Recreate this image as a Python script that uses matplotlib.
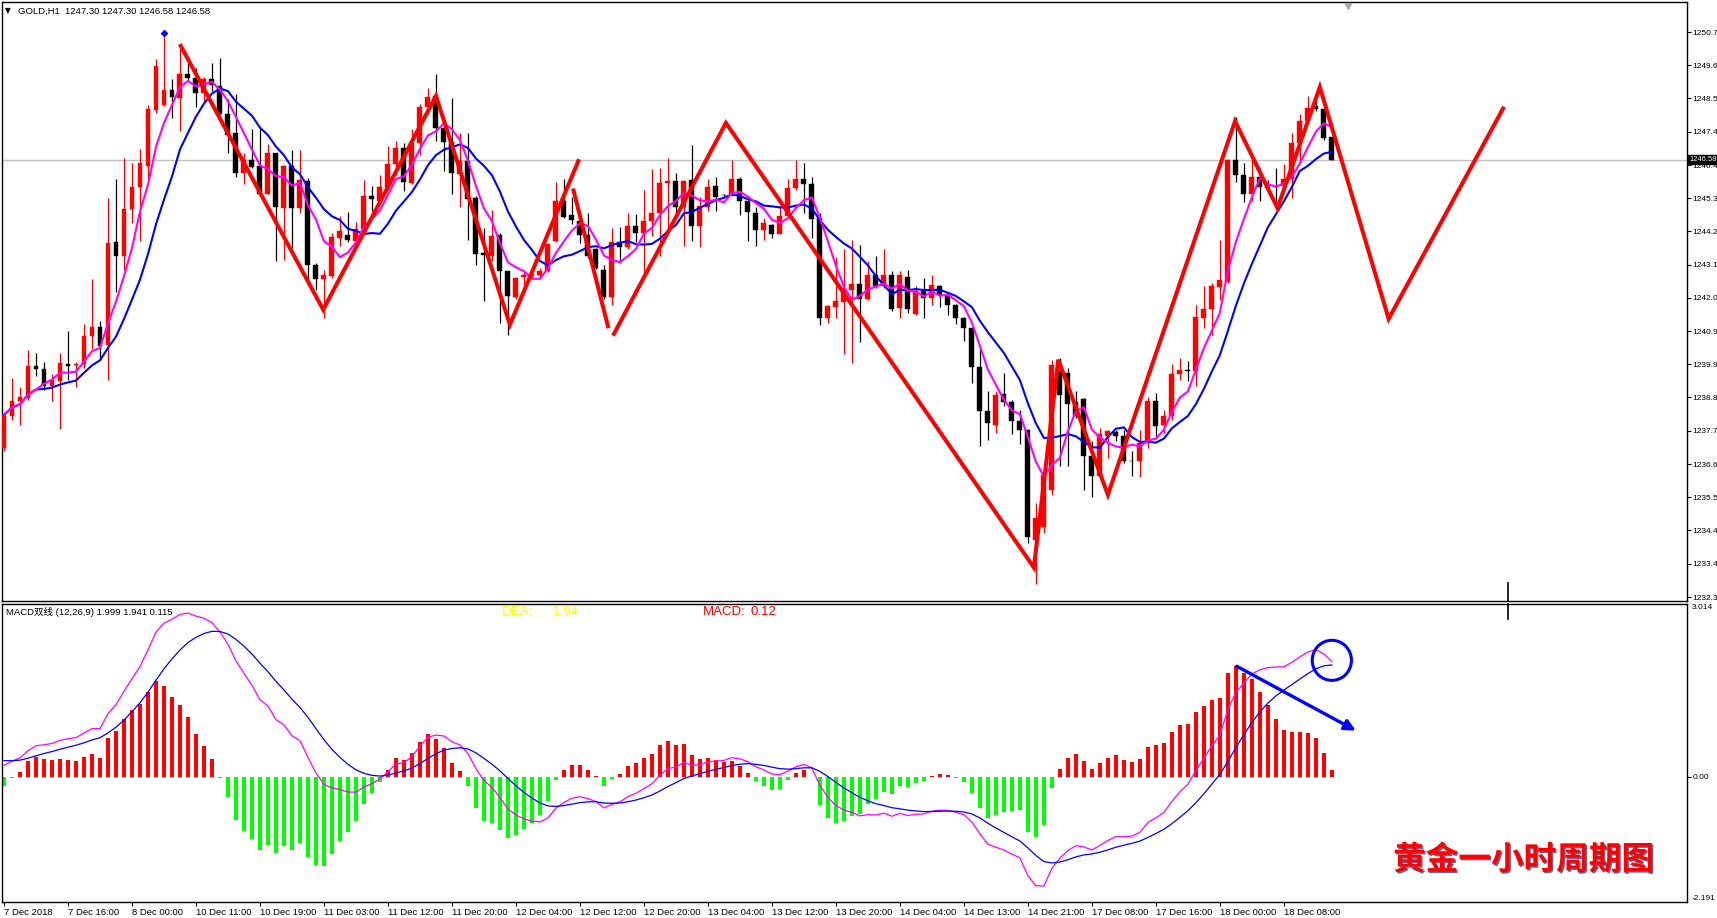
import matplotlib
matplotlib.use('Agg')
import matplotlib.pyplot as plt
import matplotlib.patheffects as pe
from matplotlib.patches import Ellipse, FancyArrowPatch
import numpy as np
import pandas as pd

plt.rcParams['font.family'] = ['Liberation Sans', 'Noto Sans CJK SC', 'DejaVu Sans']

# ---- data ----
time_labels = ["7 Dec 2018", "7 Dec 16:00", "8 Dec 00:00", "10 Dec 11:00", "10 Dec 19:00",
               "11 Dec 03:00", "11 Dec 12:00", "11 Dec 20:00", "12 Dec 04:00", "12 Dec 12:00",
               "12 Dec 20:00", "13 Dec 04:00", "13 Dec 12:00", "13 Dec 20:00", "14 Dec 04:00",
               "14 Dec 13:00", "14 Dec 21:00", "17 Dec 08:00", "17 Dec 16:00", "18 Dec 00:00",
               "18 Dec 08:00"]
label_step = 8

opens = [1237.18, 1238.21, 1238.72, 1238.81, 1239.84, 1239.77, 1239.21, 1239.37, 1239.93, 1239.88,
         1239.93, 1240.82, 1241.11, 1240.55, 1243.88, 1243.45, 1244.98, 1245.68, 1246.38, 1248.19,
         1248.34, 1248.86, 1248.59, 1249.38, 1249.24, 1248.75, 1249.19, 1248.97, 1248.05, 1247.43,
         1246.15, 1246.58, 1246.36, 1245.47, 1246.78, 1245.00, 1246.36, 1245.00, 1245.87, 1243.16,
         1242.70, 1242.78, 1244.03, 1244.11, 1243.92, 1244.33, 1245.39, 1245.24, 1245.66, 1246.42,
         1246.94, 1245.82, 1247.13, 1248.29, 1248.65, 1247.61, 1247.16, 1246.11, 1246.53, 1245.31,
         1243.54, 1243.45, 1244.11, 1242.94, 1242.09, 1242.75, 1242.78, 1242.83, 1242.94, 1243.92,
         1245.24, 1244.77, 1244.59, 1244.12, 1243.68, 1242.99, 1242.09, 1243.89, 1243.73, 1244.41,
         1244.19, 1244.57, 1244.84, 1245.82, 1245.87, 1245.03, 1245.90, 1244.41, 1245.03, 1245.71,
         1245.44, 1245.42, 1245.96, 1245.22, 1244.84, 1244.30, 1244.46, 1244.16, 1244.73, 1245.64,
         1245.93, 1245.77, 1244.66, 1241.42, 1241.78, 1241.94, 1242.34, 1242.51, 1242.05, 1242.83,
         1242.45, 1242.83, 1241.75, 1242.75, 1241.55, 1242.29, 1242.07, 1242.45, 1242.16, 1241.85,
         1241.42, 1241.09, 1239.81, 1238.40, 1237.94, 1238.94, 1238.68, 1238.05, 1237.78, 1234.20,
         1234.60, 1235.80, 1239.68, 1239.63, 1238.68, 1238.79, 1236.91, 1236.26, 1237.56, 1237.70,
         1237.59, 1236.77, 1236.75, 1237.34, 1238.72, 1237.94, 1238.21, 1239.59, 1239.74, 1239.68,
         1241.42, 1241.72, 1242.42, 1242.59, 1246.58, 1246.07, 1245.46, 1246.00, 1245.70, 1245.73,
         1245.71, 1245.93, 1247.13, 1247.85, 1248.32, 1248.21, 1247.30]
highs = [1238.30, 1239.46, 1239.16, 1240.38, 1240.27, 1239.98, 1239.59, 1240.27, 1240.98, 1239.98,
         1241.22, 1242.70, 1241.31, 1245.33, 1245.93, 1246.63, 1246.47, 1246.91, 1248.37, 1249.84,
         1250.66, 1249.19, 1250.17, 1249.73, 1249.57, 1249.27, 1249.71, 1249.87, 1248.54, 1248.70,
         1246.80, 1247.56, 1247.61, 1247.07, 1246.80, 1246.40, 1246.88, 1246.88, 1245.98, 1243.20,
         1242.99, 1244.19, 1244.73, 1244.86, 1244.54, 1245.90, 1245.71, 1246.07, 1247.02, 1247.18,
         1247.13, 1247.56, 1248.40, 1248.90, 1249.35, 1247.67, 1248.57, 1247.45, 1247.45, 1245.39,
         1244.35, 1244.95, 1244.19, 1242.96, 1242.75, 1242.99, 1242.99, 1243.05, 1243.86, 1245.85,
         1245.93, 1245.35, 1244.84, 1244.84, 1243.70, 1243.14, 1244.35, 1244.37, 1244.84, 1244.81,
         1245.60, 1246.26, 1246.31, 1246.64, 1246.15, 1245.90, 1247.05, 1245.35, 1245.93, 1246.01,
         1245.47, 1246.55, 1246.01, 1245.25, 1245.03, 1244.66, 1244.48, 1245.06, 1245.96, 1246.55,
         1246.45, 1246.01, 1244.84, 1241.85, 1243.40, 1243.65, 1243.97, 1243.79, 1243.27, 1243.43,
         1243.65, 1242.94, 1242.94, 1242.99, 1242.45, 1242.72, 1242.83, 1242.48, 1242.18, 1241.88,
         1241.45, 1241.12, 1240.46, 1239.05, 1239.05, 1239.63, 1238.76, 1238.43, 1237.80, 1235.40,
         1236.40, 1240.06, 1240.11, 1239.79, 1239.03, 1238.81, 1237.40, 1237.83, 1237.77, 1237.78,
         1237.78, 1237.07, 1237.78, 1238.83, 1238.97, 1238.43, 1239.92, 1240.12, 1240.01, 1241.85,
         1242.45, 1242.56, 1243.97, 1246.60, 1247.96, 1246.47, 1246.64, 1246.31, 1245.90, 1246.29,
         1246.42, 1247.45, 1248.05, 1248.65, 1248.79, 1248.27, 1247.30]
lows = [1237.10, 1238.10, 1237.94, 1238.75, 1239.52, 1239.08, 1238.70, 1237.81, 1239.41, 1239.16,
        1239.79, 1240.42, 1240.06, 1239.41, 1242.27, 1242.99, 1244.51, 1243.94, 1245.95, 1248.10,
        1248.32, 1247.92, 1247.50, 1249.13, 1248.29, 1248.43, 1248.81, 1248.05, 1246.80, 1246.01,
        1245.79, 1246.31, 1245.39, 1245.45, 1243.27, 1243.32, 1243.70, 1244.84, 1242.67, 1242.34,
        1241.42, 1242.73, 1243.75, 1243.90, 1243.76, 1244.25, 1244.90, 1245.22, 1245.60, 1246.09,
        1245.55, 1245.79, 1246.74, 1248.05, 1247.18, 1246.20, 1245.46, 1245.04, 1243.97, 1243.14,
        1241.96, 1243.27, 1241.26, 1240.85, 1242.05, 1242.49, 1242.72, 1242.72, 1242.92, 1243.90,
        1244.68, 1244.48, 1243.86, 1243.38, 1243.00, 1242.05, 1241.83, 1243.21, 1243.68, 1243.90,
        1242.83, 1244.08, 1243.43, 1244.35, 1244.66, 1243.76, 1243.92, 1243.72, 1244.90, 1244.90,
        1245.38, 1245.39, 1244.77, 1243.92, 1243.76, 1243.97, 1244.03, 1244.14, 1244.68, 1245.60,
        1244.84, 1244.03, 1241.18, 1241.26, 1241.42, 1240.25, 1239.95, 1240.64, 1242.00, 1242.40,
        1242.40, 1241.64, 1241.42, 1241.58, 1241.53, 1241.42, 1241.83, 1241.77, 1241.50, 1241.22,
        1240.68, 1239.30, 1237.24, 1237.46, 1237.67, 1238.54, 1237.64, 1237.31, 1234.10, 1232.74,
        1234.40, 1235.66, 1236.59, 1236.59, 1238.16, 1235.82, 1235.60, 1236.20, 1236.86, 1237.40,
        1236.70, 1236.26, 1236.23, 1237.18, 1237.51, 1237.67, 1238.10, 1239.41, 1239.35, 1239.19,
        1241.09, 1240.88, 1242.02, 1242.56, 1245.85, 1245.20, 1245.22, 1245.22, 1245.50, 1245.01,
        1245.66, 1245.33, 1246.53, 1247.83, 1248.16, 1247.23, 1246.58]
closes = [1238.27, 1238.73, 1238.83, 1239.84, 1239.77, 1239.21, 1239.41, 1239.95, 1239.86, 1239.93,
          1240.82, 1241.11, 1240.51, 1243.85, 1243.45, 1244.98, 1245.68, 1246.46, 1248.21, 1249.62,
          1248.86, 1248.62, 1249.35, 1249.24, 1248.75, 1249.19, 1249.00, 1248.07, 1247.39, 1246.15,
          1246.58, 1246.34, 1245.47, 1246.78, 1245.04, 1246.36, 1245.00, 1245.91, 1243.16, 1242.70,
          1242.83, 1244.05, 1244.24, 1243.95, 1244.33, 1245.39, 1245.28, 1245.68, 1246.44, 1246.94,
          1245.85, 1247.13, 1248.29, 1248.61, 1247.61, 1247.16, 1246.15, 1246.53, 1245.28, 1243.51,
          1243.46, 1244.08, 1242.96, 1242.13, 1242.72, 1242.81, 1242.85, 1242.96, 1243.83, 1245.24,
          1244.70, 1244.60, 1244.12, 1243.43, 1243.03, 1242.09, 1243.90, 1243.73, 1244.41, 1244.19,
          1244.59, 1244.84, 1245.82, 1245.87, 1245.03, 1245.87, 1244.41, 1245.06, 1245.68, 1245.35,
          1245.41, 1245.96, 1245.24, 1244.88, 1244.30, 1244.50, 1244.16, 1244.73, 1245.64, 1245.96,
          1245.77, 1244.63, 1241.42, 1241.80, 1241.96, 1242.38, 1242.51, 1242.05, 1242.83, 1242.45,
          1242.83, 1241.72, 1242.81, 1241.72, 1242.29, 1242.07, 1242.48, 1242.16, 1241.85, 1241.42,
          1241.09, 1239.81, 1238.38, 1238.00, 1238.92, 1238.68, 1238.05, 1237.78, 1234.27, 1234.90,
          1236.31, 1239.90, 1238.92, 1238.62, 1238.21, 1236.91, 1236.26, 1237.64, 1237.75, 1237.59,
          1236.75, 1236.75, 1237.34, 1238.70, 1237.89, 1238.21, 1239.60, 1239.74, 1239.68, 1241.44,
          1241.72, 1242.45, 1242.64, 1246.58, 1246.07, 1245.46, 1246.00, 1245.68, 1245.66, 1245.69,
          1245.93, 1247.13, 1247.85, 1248.27, 1248.24, 1247.29, 1246.58]

price_ticks = [1232.33, 1233.41, 1234.50, 1235.58, 1236.66, 1237.74, 1238.83, 1239.91, 1240.99,
               1242.07, 1243.16, 1244.24, 1245.32, 1246.40, 1247.49, 1248.57, 1249.65, 1250.73]
price_tick_labels = ["1232.3", "1233.4", "1234.4", "1235.5", "1236.6", "1237.7", "1238.8",
                     "1239.9", "1240.9", "1242.0", "1243.1", "1244.2", "1245.3", "1246.4",
                     "1247.4", "1248.5", "1249.6", "1250.7"]
price_top, price_bottom = 1251.71, 1232.20
last_price = 1246.58
fractal_bar, fractal_price = 20, 1250.70

# hand-drawn trend lines (bar index, price)
zig_a_bars = [22.1, 39.9, 54.0, 63.25, 71.8]
zig_a_prices = [1250.28, 1241.69, 1248.65, 1241.20, 1246.53]
zig_b_bars = [71.2, 75.5]
zig_b_prices = [1245.57, 1241.15]
zig_c_bars = [76.25, 90.25, 128.75, 131.8, 138.0, 153.9, 159.2, 164.5, 173.1, 187.4]
zig_c_prices = [1240.90, 1247.77, 1233.29, 1240.06, 1235.66, 1247.83, 1245.00, 1248.94, 1241.39, 1248.24]

ma_fast_len, ma_slow_len = 5, 10
macd_fast, macd_slow, macd_sig = 12, 26, 9
ema_fast_seed, ema_slow_seed, dea_seed = 1237.55, 1237.40, 0.30
macd_top, macd_bottom = 3.014, -2.191

arrow_from = (153.8, 1.95)
arrow_to = (169.3, 0.78)
circle_center = (166.0, 2.03)

# ---- derived series ----
n = len(closes)
x = np.arange(n)
o = np.array(opens); h = np.array(highs); l = np.array(lows); c = np.array(closes)
cs = pd.Series(closes)
ma_fast = cs.rolling(ma_fast_len, min_periods=1).mean()
ma_slow = cs.rolling(ma_slow_len, min_periods=1).mean()

a_f, a_s, a_g = 2 / (macd_fast + 1), 2 / (macd_slow + 1), 2 / (macd_sig + 1)
ef, es, dea = ema_fast_seed, ema_slow_seed, dea_seed
dif_vals, dea_vals = [], []
for cl in closes:
    ef += a_f * (cl - ef)
    es += a_s * (cl - es)
    d = ef - es
    dea += a_g * (d - dea)
    dif_vals.append(d)
    dea_vals.append(dea)
dif_vals = np.array(dif_vals); dea_vals = np.array(dea_vals)
hist = 2 * (dif_vals - dea_vals)

# ---- figure ----
W, H = 1717, 918
fig = plt.figure(figsize=(W / 100, H / 100), dpi=100)
fig.patch.set_facecolor('white')


def fx(px):
    return px / W


def fy(py):
    return 1 - py / H


ax = fig.add_axes([fx(2), fy(601), 1685 / W, 599 / H])
ax2 = fig.add_axes([fx(2), fy(902), 1685 / W, 298 / H], sharex=ax)
xlim = (-0.25, 210.4)
ax.set_xlim(*xlim)
ax.set_ylim(price_bottom, price_top)

up = c >= o
cols = np.where(up, '#ff0000', '#000000')
ax.vlines(x, l, h, colors=cols, lw=0.9, zorder=3)
body = np.maximum(np.abs(c - o), 0.02)
ax.bar(x, body, bottom=np.minimum(o, c), width=0.62, color=cols, edgecolor=cols,
       lw=0.3, zorder=4)

ax.plot(x, ma_slow, color='#0000ff', lw=1.5, zorder=5)
ax.plot(x, ma_fast, color='#ff00ff', lw=1.5, zorder=5)

for bx, by in [(zig_a_bars, zig_a_prices), (zig_b_bars, zig_b_prices), (zig_c_bars, zig_c_prices)]:
    ax.plot(bx, by, color='#ff0000', lw=2.9, solid_joinstyle='miter', zorder=6)

ax.axhline(last_price, color='#c0c0c0', lw=1, zorder=1)
ax.plot(fractal_bar, fractal_price, marker='D', ms=3, color='#0000ff', zorder=7)

# right price scale
ax.yaxis.tick_right()
ax.set_yticks(price_ticks)
ax.set_yticklabels(price_tick_labels)
ax.tick_params(axis='y', direction='out', length=3, width=0.8, pad=0.6, labelsize=6.0)
ax.tick_params(axis='x', length=0, labelbottom=False)
ax.text(1.0012, last_price, f"{last_price:.2f}", transform=ax.get_yaxis_transform(),
        fontsize=5.4, color='white', va='center', ha='left', zorder=20, clip_on=False,
        bbox=dict(boxstyle='square,pad=0.15', fc='black', ec='black'))

# chart-shift marker and separator
ax.plot([168], [0.993], marker='v', ms=5, color='#a8a8a8', transform=ax.get_xaxis_transform(),
        clip_on=False, zorder=8)
ax.axvline(188, ymin=0, ymax=0.03, color='black', lw=1.2, clip_on=False)
ax2.axvline(188, ymin=0.95, ymax=1, color='black', lw=1.2, clip_on=False)

# ---- MACD panel ----
ax2.set_ylim(macd_bottom, macd_top)
hcols = np.where(hist >= 0, '#ff0000', '#00ff00')
ax2.bar(x, hist, width=0.42, color=hcols, lw=0, zorder=2)
ax2.plot(x, dif_vals, color='#ff00ff', lw=0.9, zorder=3)
ax2.plot(x, dea_vals, color='#0000ff', lw=0.9, zorder=3)

ax2.yaxis.tick_right()
ax2.set_yticks([0])
ax2.set_yticklabels(["0.00"])
ax2.tick_params(axis='y', direction='out', length=3, width=0.8, pad=0.8, labelsize=6.0)
ax2.text(1.0025, macd_top, f"{macd_top:.3f}", transform=ax2.get_yaxis_transform(),
         fontsize=6.0, va='top', ha='left', clip_on=False)
ax2.text(1.0025, macd_bottom, f"{macd_bottom:.3f}", transform=ax2.get_yaxis_transform(),
         fontsize=6.0, va='bottom', ha='left', clip_on=False)

tick_pos = np.arange(len(time_labels)) * label_step
ax2.set_xticks(tick_pos)
ax2.set_xticklabels(time_labels)
for t in ax2.get_xticklabels():
    t.set_ha('left')
ax2.tick_params(axis='x', direction='out', length=3, width=0.8, pad=1.5, labelsize=6.8)

arrow = FancyArrowPatch(arrow_from, arrow_to, arrowstyle='-|>', mutation_scale=16,
                        color='#0000ff', lw=2.4, zorder=6)
ax2.add_patch(arrow)
ax2.add_patch(Ellipse(circle_center, 4.9, 0.70, fill=False, ec='#0000ff', lw=2.2, zorder=6))

for a in (ax, ax2):
    for s in a.spines.values():
        s.set_color('black')
        s.set_linewidth(1.0)

# ---- texts ----
fig.text(fx(5), fy(11), "▼", fontsize=5.5, va='center', ha='left', family='DejaVu Sans')
fig.text(fx(18), fy(11), "GOLD,H1  1247.30 1247.30 1246.58 1246.58", fontsize=6.8,
         va='center', ha='left')
fig.text(fx(6), fy(612), "MACD双线 (12,26,9) 1.999 1.941 0.115", fontsize=6.8,
         va='center', ha='left')
fig.text(fx(502), fy(612), "DEA:", fontsize=9.5, color='#ffff00', va='center', ha='left')
fig.text(fx(553), fy(612), "1.94", fontsize=9.5, color='#ffff00', va='center', ha='left')
fig.text(fx(703), fy(612), "MACD:", fontsize=9.5, color='#ff0000', va='center', ha='left')
fig.text(fx(750), fy(612), "0.12", fontsize=9.5, color='#ff0000', va='center', ha='left')

fig.text(fx(1393), fy(860), "黄金一小时周期图", fontsize=23.5, color='#ff0000',
         fontweight='bold', family=['Noto Sans CJK SC'], va='center', ha='left',
         path_effects=[pe.withSimplePatchShadow(offset=(1, -1), shadow_rgbFace='#000060',
                                                 alpha=0.6)])

fig.savefig('out.png', dpi=100, facecolor='white')
